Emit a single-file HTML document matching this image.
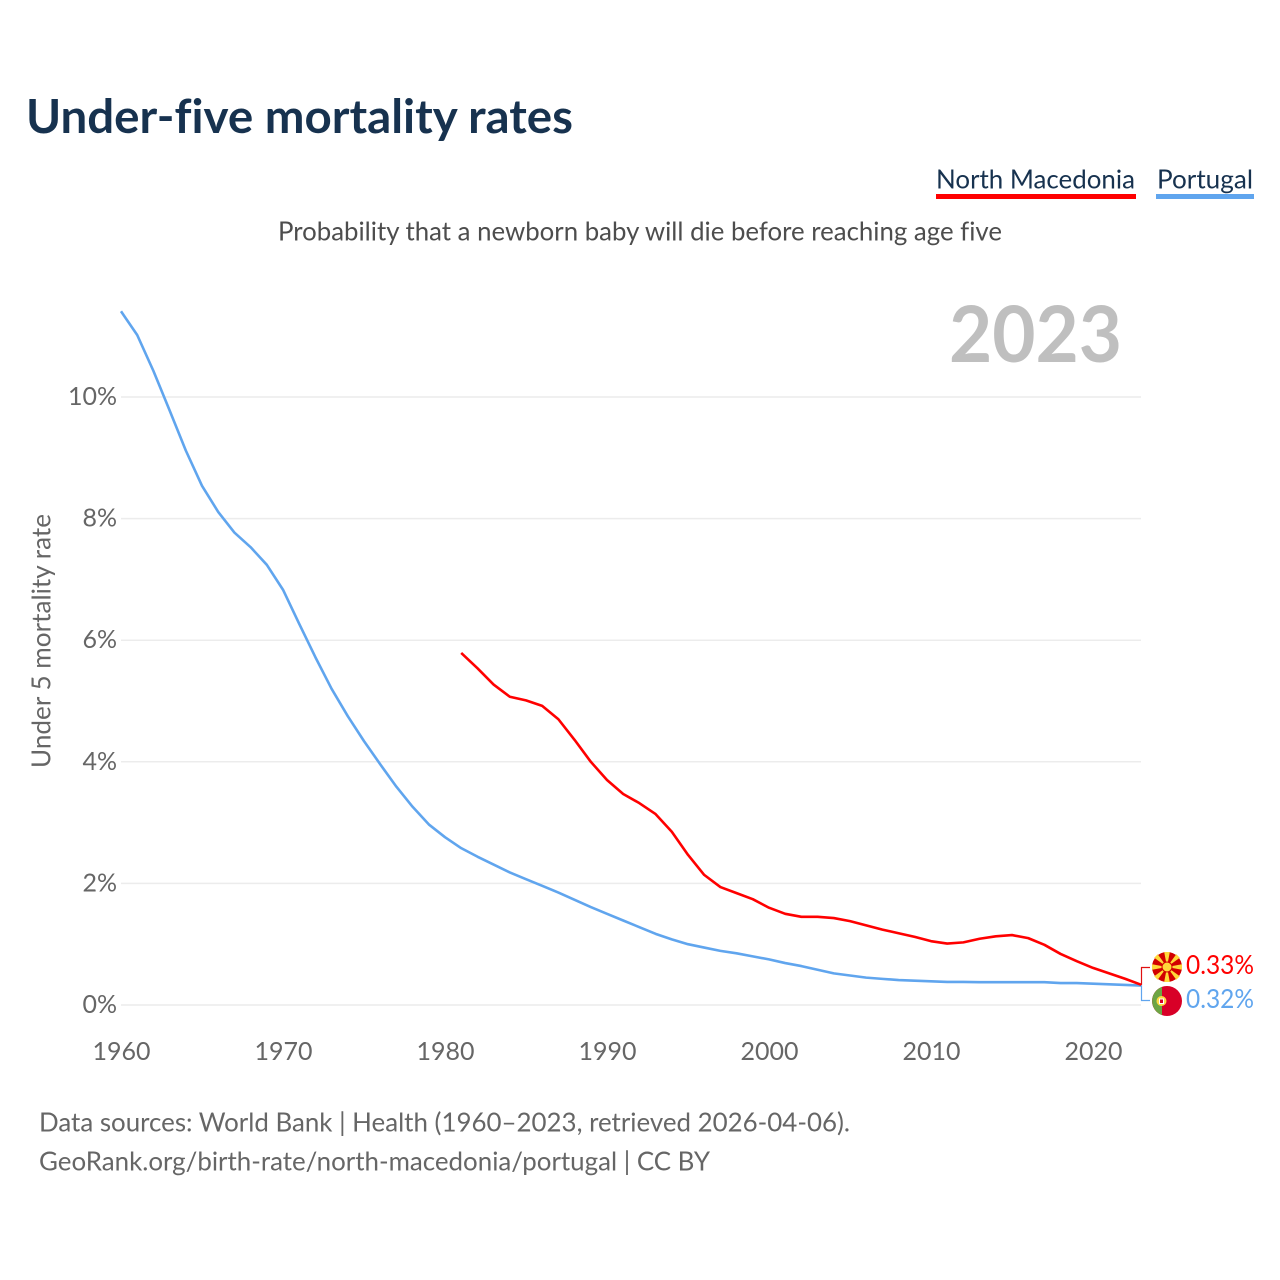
<!DOCTYPE html>
<html lang="en">
<head>
<meta charset="utf-8">
<title>Under-five mortality rates</title>
<style>
html,body{margin:0;padding:0;background:#fff;}
svg{display:block;}
text{font-family:"Lato","Carlito","Liberation Sans",sans-serif;font-variant-ligatures:none;}
</style>
</head>
<body>
<svg id="chart" xmlns="http://www.w3.org/2000/svg" width="1280" height="1280" viewBox="0 0 1280 1280">
  <rect x="0" y="0" width="1280" height="1280" fill="#ffffff"/>
  <text x="26" y="133" font-size="46.5" font-weight="700" fill="#17324f" textLength="547" lengthAdjust="spacingAndGlyphs">Under-five mortality rates</text>

  <g>
    <text x="936" y="188.5" font-size="26.5" fill="#17324f" textLength="199" lengthAdjust="spacingAndGlyphs">North Macedonia</text>
    <rect x="936" y="194" width="200" height="5" fill="#ff0000"/>
  </g>
  <g>
    <text x="1157" y="188.5" font-size="26.5" fill="#17324f" textLength="96" lengthAdjust="spacingAndGlyphs">Portugal</text>
    <rect x="1156" y="194" width="98" height="5" fill="#60a5ee"/>
  </g>

  <text x="278" y="240.5" font-size="26.5" fill="#4d4d4d" textLength="724" lengthAdjust="spacingAndGlyphs">Probability that a newborn baby will die before reaching age five</text>
  <text x="949" y="362" font-size="78" font-weight="700" fill="#bfbfbf" textLength="173" lengthAdjust="spacingAndGlyphs">2023</text>

  <g id="grid"></g>
  <g id="yTicks"></g>
  <g id="xTicks"></g>
  <text transform="translate(50.5,641) rotate(-90)" text-anchor="middle" font-size="26.5" fill="#666666" textLength="254" lengthAdjust="spacingAndGlyphs">Under 5 mortality rate</text>

  <g id="series"></g>
  <g id="ends"></g>

  <g>
    <circle cx="1167" cy="967" r="15" fill="#d20000"/>
    <g fill="#ffd83a">
      <polygon points="1167,967 1164.2,952 1169.8,952"/>
      <polygon points="1167,967 1164.2,982 1169.8,982"/>
      <polygon points="1167,967 1152,964.2 1152,969.8"/>
      <polygon points="1167,967 1182,964.2 1182,969.8"/>
      <polygon points="1167,967 1154.2,957.7 1157.7,954.2"/>
      <polygon points="1167,967 1179.8,957.7 1176.3,954.2"/>
      <polygon points="1167,967 1154.2,976.3 1157.7,979.8"/>
      <polygon points="1167,967 1179.8,976.3 1176.3,979.8"/>
    </g>
    <circle cx="1167" cy="967" r="5" fill="#ffd83a" stroke="#d20000" stroke-width="1"/>
  </g>
  <g>
    <circle cx="1167" cy="1001" r="15" fill="#d80027"/>
    <path d="M1162 986.9 A15 15 0 0 0 1162 1015.1 Z" fill="#6da544"/>
    <circle cx="1161.5" cy="1001" r="5" fill="#ffda44"/>
    <rect x="1159.5" y="999" width="4" height="4.5" fill="#d80027" stroke="#fff" stroke-width="1"/>
  </g>
</svg>
<script>
const xStartYear = 1960;
const years = [];
for (let yr = 1960; yr <= 2023; yr++) { years.push(yr); }
const xTickLabels = [1960, 1970, 1980, 1990, 2000, 2010, 2020];
const yTickLabels = [0, 2, 4, 6, 8, 10];
const portugal = [11.41,11.02,10.43,9.78,9.12,8.54,8.11,7.77,7.53,7.24,6.83,6.27,5.72,5.2,4.75,4.34,3.96,3.59,3.26,2.97,2.76,2.58,2.44,2.31,2.18,2.07,1.96,1.85,1.73,1.61,1.5,1.39,1.28,1.17,1.08,1.0,0.945,0.89,0.85,0.8,0.75,0.69,0.64,0.58,0.52,0.485,0.45,0.43,0.41,0.4,0.39,0.38,0.38,0.375,0.375,0.375,0.375,0.375,0.36,0.36,0.35,0.34,0.33,0.32];
const northMacedoniaStart = 1981;
const northMacedonia = [5.79,5.54,5.27,5.07,5.01,4.92,4.7,4.36,4.0,3.7,3.47,3.32,3.14,2.85,2.47,2.14,1.94,1.84,1.74,1.6,1.5,1.45,1.45,1.43,1.38,1.31,1.24,1.18,1.12,1.05,1.01,1.03,1.09,1.13,1.15,1.1,0.99,0.84,0.72,0.61,0.52,0.43,0.33];

const NS = 'http://www.w3.org/2000/svg';
function xScale(year) { return 121 + (year - xStartYear) * 16.2; }
function yScale(value) { return 1005 - value * 60.8; }
function make(tag, attrs, parent, content) {
  const el = document.createElementNS(NS, tag);
  for (const k in attrs) { el.setAttribute(k, attrs[k]); }
  if (content !== undefined) { el.textContent = content; }
  document.getElementById(parent).appendChild(el);
  return el;
}

yTickLabels.forEach(function (v) {
  const line = make('line', { x1: 121, x2: 1141, y1: yScale(v), y2: yScale(v), stroke: '#ececec', 'stroke-width': 1.5 }, 'grid');
  
  
  const label = make('text', { x: 117, y: yScale(v) + 8, 'text-anchor': 'end', 'font-size': 25, fill: '#666666' }, 'yTicks', v + '%');
  
  
});

xTickLabels.forEach(function (yr) {
  const label = make('text', { x: xScale(yr) + 0.5, y: 1060, 'text-anchor': 'middle', 'font-size': 25, fill: '#666666' }, 'xTicks', String(yr));
  
  
});

function pathFor(values, startYear) {
  return values.map(function (v, i) {
    return (i ? 'L' : 'M') + xScale(startYear + i).toFixed(2) + ' ' + yScale(v).toFixed(2);
  }).join(' ');
}

const bluePath = make('path', { d: pathFor(portugal, xStartYear), fill: 'none', stroke: '#60a5ee', 'stroke-width': 2.6, 'stroke-linejoin': 'round' }, 'series');



const redPath = make('path', { d: pathFor(northMacedonia, northMacedoniaStart), fill: 'none', stroke: '#ff0000', 'stroke-width': 2.6, 'stroke-linejoin': 'round' }, 'series');



const lastRed = northMacedonia[northMacedonia.length - 1];
const lastBlue = portugal[portugal.length - 1];
const lastYear = years[years.length - 1];

const redLink = make('path', { d: 'M' + xScale(lastYear) + ' ' + yScale(lastRed) + ' H1141.5 V967.5 H1150', fill: 'none', stroke: '#e01010', 'stroke-width': 1.2 }, 'ends');



const blueLink = make('path', { d: 'M' + xScale(lastYear) + ' ' + yScale(lastBlue) + ' H1141.5 V1000.5 H1150', fill: 'none', stroke: '#60a5ee', 'stroke-width': 1.2 }, 'ends');



const redValue = make('text', { x: 1186, y: 974, 'font-size': 26, fill: '#ff0000', textLength: 68, lengthAdjust: 'spacingAndGlyphs' }, 'ends', lastRed.toFixed(2) + '%');



const blueValue = make('text', { x: 1186, y: 1008, 'font-size': 26, fill: '#60a5ee', textLength: 68, lengthAdjust: 'spacingAndGlyphs' }, 'ends', lastBlue.toFixed(2) + '%');


</script>
<svg style="position:absolute;left:0;top:1100px" xmlns="http://www.w3.org/2000/svg" width="1280" height="90" viewBox="0 1100 1280 90">
  <text x="39" y="1131.5" font-size="26.5" fill="#666666" textLength="811" lengthAdjust="spacingAndGlyphs">Data sources: World Bank | Health (1960–2023, retrieved 2026-04-06).</text>
  <text x="39" y="1170.5" font-size="26.5" fill="#666666" textLength="671" lengthAdjust="spacingAndGlyphs">GeoRank.org/birth-rate/north-macedonia/portugal | CC BY</text>
</svg>
</body>
</html>
